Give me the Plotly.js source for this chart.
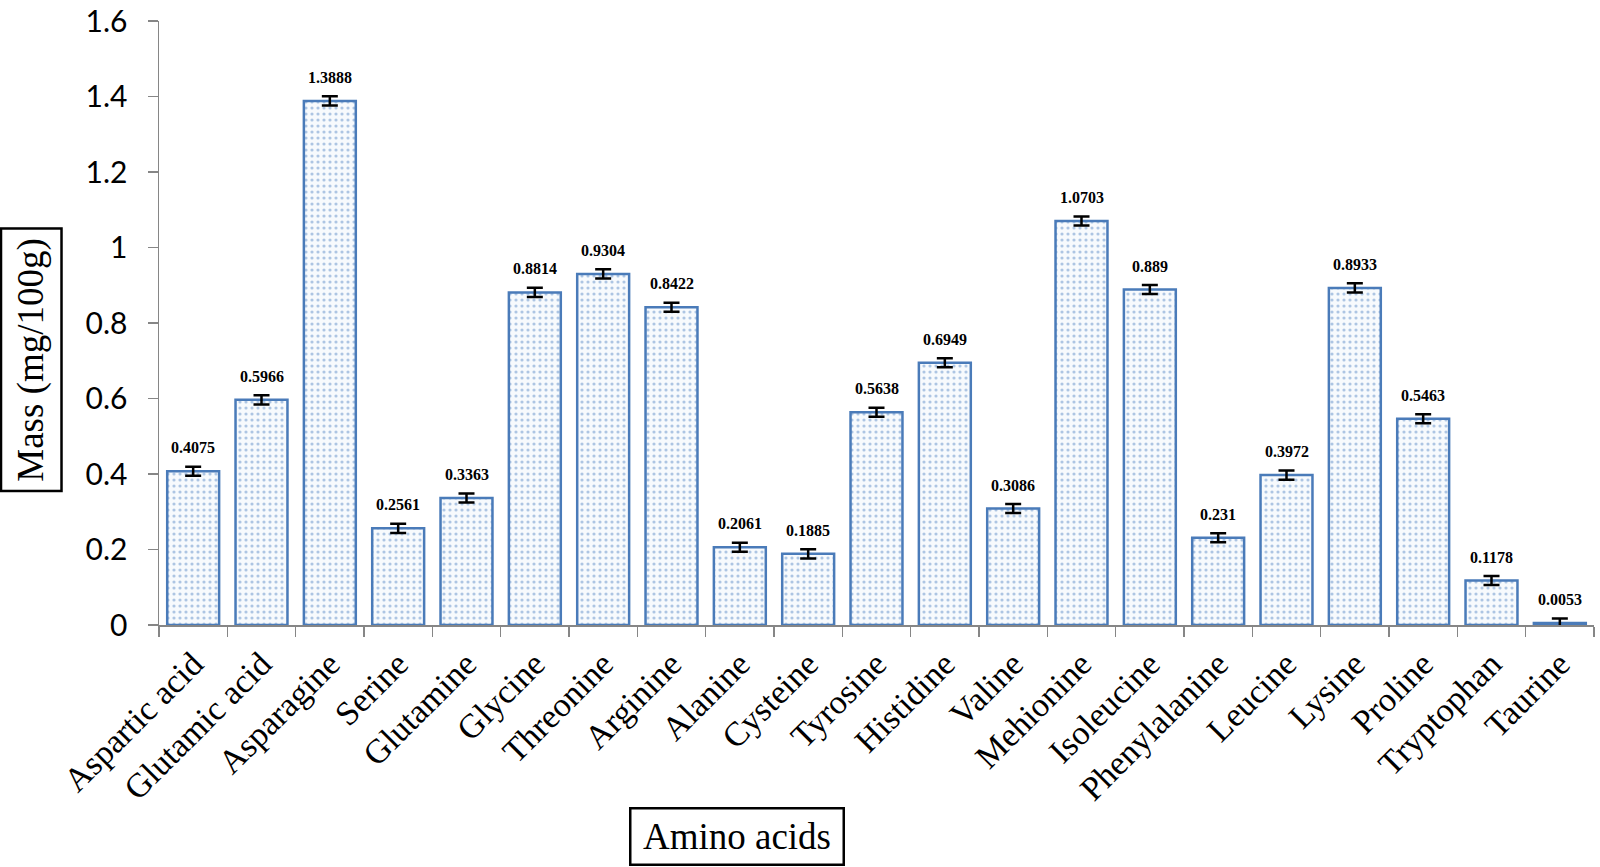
<!DOCTYPE html>
<html><head><meta charset="utf-8">
<script src="https://cdn.plot.ly/plotly-3.0.1.min.js"></script>
<style>html,body{margin:0;padding:0;background:#fff}#chart{width:1600px;height:867px}</style>
</head><body><div id="chart"></div>
<script>
const categories = ["Aspartic acid","Glutamic acid","Asparagine","Serine","Glutamine","Glycine","Threonine","Arginine","Alanine","Cysteine","Tyrosine","Histidine","Valine","Mehionine","Isoleucine","Phenylalanine","Leucine","Lysine","Proline","Tryptophan","Taurine"];
const values = [0.4075,0.5966,1.3888,0.2561,0.3363,0.8814,0.9304,0.8422,0.2061,0.1885,0.5638,0.6949,0.3086,1.0703,0.889,0.231,0.3972,0.8933,0.5463,0.1178,0.0053];
const labels = ["0.4075","0.5966","1.3888","0.2561","0.3363","0.8814","0.9304","0.8422","0.2061","0.1885","0.5638","0.6949","0.3086","1.0703","0.889","0.231","0.3972","0.8933","0.5463","0.1178","0.0053"];
const errors = [0.012,0.012,0.012,0.012,0.012,0.012,0.012,0.012,0.012,0.012,0.012,0.012,0.012,0.012,0.012,0.012,0.012,0.012,0.012,0.012,0.012];
const yTickVals = [0,0.2,0.4,0.6,0.8,1,1.2,1.4,1.6];
const yTickText = ["0","0.2","0.4","0.6","0.8","1","1.2","1.4","1.6"];

const trace = {
  type: 'bar', x: categories, y: values,
  marker: {
    color: '#f5f8fc',
    line: {color: '#4a7bb9', width: 2.5},
    pattern: {shape: '.', fgcolor: '#adc5e3', bgcolor: '#f7fafd', size: 6, solidity: 0.22}
  },
  error_y: {type: 'data', array: errors, visible: true, color: '#000', thickness: 2.5, width: 8},
  hoverinfo: 'skip'
};

const serif = 'Liberation Serif, Times New Roman, serif';
const annotations = categories.map((c, i) => ({
  x: c, y: values[i], xref: 'x', yref: 'y', text: labels[i], showarrow: false,
  yanchor: 'bottom', yshift: 13,
  font: {family: serif, size: 16, color: '#000', weight: 'bold'}
}));
annotations.push({
  xref: 'paper', yref: 'paper', x: -0.0892, y: 0.44, xanchor: 'center', yanchor: 'middle',
  text: 'Mass (mg/100g)', textangle: -90, showarrow: false,
  font: {family: serif, size: 37, color: '#000'},
  bordercolor: '#000', borderwidth: 2.5, borderpad: 8, bgcolor: '#fff'
});
annotations.push({
  xref: 'paper', yref: 'paper', x: 0.403, y: -0.35, xanchor: 'center', yanchor: 'middle',
  text: 'Amino acids', showarrow: false, width: 205, height: 48,
  font: {family: serif, size: 37, color: '#000'},
  bordercolor: '#000', borderwidth: 2.5, borderpad: 3, bgcolor: '#fff'
});

const layout = {
  width: 1600, height: 867,
  margin: {l: 159, r: 6, t: 21, b: 242},
  paper_bgcolor: '#fff', plot_bgcolor: '#fff',
  bargap: 0.24, showlegend: false,
  xaxis: {
    type: 'category', tickangle: -45, showline: true, linecolor: '#868686', linewidth: 1.5,
    ticks: 'outside', tickson: 'boundaries', ticklen: 10, tickcolor: '#868686', tickwidth: 1.5,
    showgrid: false, zeroline: false, ticklabelstandoff: 4,
    tickfont: {family: serif, size: 34, color: '#000'}
  },
  yaxis: {
    range: [0, 1.6005], tickmode: 'array', tickvals: yTickVals, ticktext: yTickText,
    showline: true, linecolor: '#868686', linewidth: 1.5, ticklabeloverflow: 'allow',
    ticks: 'outside', ticklen: 10, tickcolor: '#868686', tickwidth: 1.5,
    showgrid: false, zeroline: false, ticklabelstandoff: 14,
    tickfont: {family: 'Lato, Carlito, sans-serif', size: 30, color: '#000'}
  },
  annotations: annotations
};
Plotly.newPlot('chart', [trace], layout, {displayModeBar: false, staticPlot: true});
</script></body></html>
